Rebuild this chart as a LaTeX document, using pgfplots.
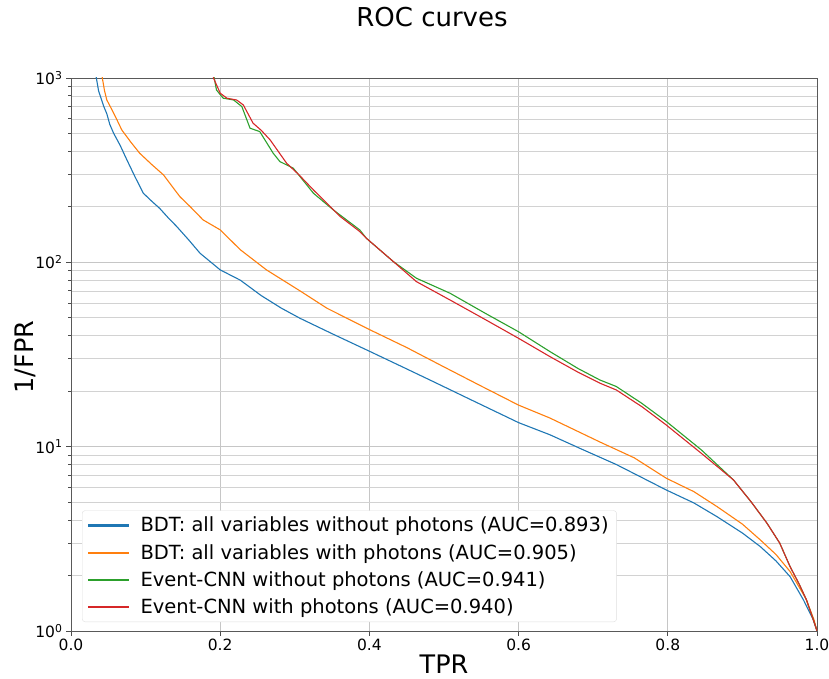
\documentclass[border=0pt]{standalone}
\usepackage{pgfplots}
\pgfplotsset{compat=1.18}
\usepackage{fontspec}
\setmainfont{DejaVu Sans}
\definecolor{cBlue}{HTML}{1F77B4}
\definecolor{cOrange}{HTML}{FF7F0E}
\definecolor{cGreen}{HTML}{2CA02C}
\definecolor{cRed}{HTML}{D62728}
\begin{document}
\begin{tikzpicture}
\useasboundingbox (-71pt,-48pt) rectangle (758pt,631pt);
\begin{axis}[
  at={(0pt,0pt)}, anchor=south west,
  scale only axis, width=746pt, height=553pt,
  xmin=0, xmax=1, ymode=log, ymin=1, ymax=1000,
  xtick={0,0.2,0.4,0.6,0.8,1},
  xticklabels={0.0,0.2,0.4,0.6,0.8,1.0},
  ytick={1,10,100,1000},
  yticklabels={10\textsuperscript{0},10\textsuperscript{1},10\textsuperscript{2},10\textsuperscript{3}},
  minor ytick={2,3,4,5,6,7,8,9,20,30,40,50,60,70,80,90,200,300,400,500,600,700,800,900},
  xmajorgrids, ymajorgrids, yminorgrids,
  major grid style={draw=gray!45, line width=0.8pt},
  minor grid style={draw=gray!35, line width=0.7pt},
  tick align=outside, tick pos=left,
  major tick length=5pt, minor tick length=3pt,
  every tick/.style={draw=black!70, line width=0.8pt},
  axis line style={draw=black!65, line width=0.8pt},
  tick label style={font=\fontsize{15.5}{18}\selectfont},
  clip=true,
  legend style={at={(0.01475,0.01627)}, anchor=south west,
    font=\fontsize{19.5}{22}\selectfont,
    draw=gray!25, fill=white, rounded corners=3pt,
    inner xsep=6pt, inner ysep=1pt,
    /tikz/every odd column/.append style={column sep=10pt},
    nodes={inner xsep=2pt, inner ysep=5.5pt, text depth=0.15em}},
  legend cell align=left,
]
\addlegendimage{legend image code/.code={\fill[cBlue, sharp corners] (0pt,-0.55pt) rectangle (40pt,0.55pt);}}
\addlegendentry{BDT: all variables without photons (AUC=0.893)}
\addlegendimage{legend image code/.code={\fill[cOrange, sharp corners] (0pt,-0.55pt) rectangle (40pt,0.55pt);}}
\addlegendentry{BDT: all variables with photons (AUC=0.905)}
\addlegendimage{legend image code/.code={\fill[cGreen, sharp corners] (0pt,-0.55pt) rectangle (40pt,0.55pt);}}
\addlegendentry{Event-CNN without photons (AUC=0.941)}
\addlegendimage{legend image code/.code={\fill[cRed, sharp corners] (0pt,-0.55pt) rectangle (40pt,0.55pt);}}
\addlegendentry{Event-CNN with photons (AUC=0.940)}
\addplot[color=cBlue, line width=1.1pt, forget plot] coordinates {
(0.031,1250) (0.034,1000) (0.037,850) (0.041,760) (0.044,700) (0.048,640) (0.052,560) (0.057,503) (0.066,430) (0.075,359)
(0.086,290) (0.097,237) (0.108,215) (0.119,196) (0.130,175) (0.142,156) (0.158,132)
(0.173,112) (0.200,91) (0.227,80) (0.255,66) (0.282,56.4) (0.307,49.7) (0.350,41)
(0.401,32.8) (0.445,27) (0.486,22.5) (0.542,17.5) (0.600,13.5) (0.642,11.6) (0.682,9.8)
(0.731,8.0) (0.798,5.82) (0.835,4.95) (0.866,4.17) (0.900,3.4) (0.924,2.87) (0.945,2.4)
(0.964,1.97) (0.982,1.47) (0.995,1.15) (1.0,1.0)
};
\addplot[color=cOrange, line width=1.1pt, forget plot] coordinates {
(0.040,1250) (0.042,1000) (0.045,850) (0.048,760) (0.055,671) (0.061,600) (0.068,523) (0.080,450) (0.092,391)
(0.108,340) (0.124,298) (0.135,260) (0.146,227) (0.160,200) (0.177,170) (0.200,150) (0.227,117) (0.262,91)
(0.307,70) (0.343,56.4) (0.401,43) (0.450,34.5) (0.499,27.2) (0.550,21.3) (0.600,16.8)
(0.642,14.3) (0.709,10.6) (0.755,8.7) (0.798,6.74) (0.835,5.7) (0.866,4.73) (0.900,3.8)
(0.924,3.12) (0.945,2.6) (0.964,2.10) (0.985,1.5) (0.996,1.15) (1.0,1.0)
};
\addplot[color=cGreen, line width=1.1pt, forget plot] coordinates {
(0.189,1200) (0.192,1000) (0.195,861) (0.204,777) (0.218,760) (0.229,700) (0.240,534)
(0.253,512) (0.271,391) (0.280,352) (0.298,324) (0.325,237) (0.352,192) (0.387,150)
(0.396,135) (0.432,101) (0.463,82) (0.508,68) (0.555,53) (0.600,42) (0.642,32.8)
(0.680,26.5) (0.709,23) (0.731,21.2) (0.765,17.2) (0.798,13.7) (0.845,9.6) (0.888,6.6)
(0.912,5.0) (0.933,3.84) (0.950,3.0) (0.964,2.23) (0.976,1.8) (0.986,1.47) (0.996,1.12) (1.0,1.0)
};
\addplot[color=cRed, line width=1.1pt, forget plot] coordinates {
(0.188,1200) (0.191,1000) (0.200,827) (0.209,777) (0.222,760) (0.231,714) (0.244,569)
(0.255,520) (0.267,461) (0.289,345) (0.305,300) (0.325,247) (0.361,177) (0.387,147)
(0.396,135) (0.432,101) (0.463,78.6) (0.508,62.5) (0.555,49) (0.600,38.7) (0.642,30.8)
(0.680,25.3) (0.709,22.1) (0.731,20.3) (0.765,16.5) (0.798,13.1) (0.845,9.2) (0.888,6.6)
(0.912,5.0) (0.933,3.84) (0.950,3.0) (0.964,2.23) (0.976,1.8) (0.986,1.47) (0.996,1.12) (1.0,1.0)
};
\end{axis}
\node[anchor=base, font=\fontsize{26}{30}\selectfont] at (361pt,604.3pt) {ROC curves};
\node[anchor=base, font=\fontsize{25.5}{30}\selectfont] at (373pt,-42pt) {TPR};
\node[anchor=base, rotate=90, font=\fontsize{25.5}{30}\selectfont] at (-37.7pt,274pt) {1/FPR};
\end{tikzpicture}
\end{document}
